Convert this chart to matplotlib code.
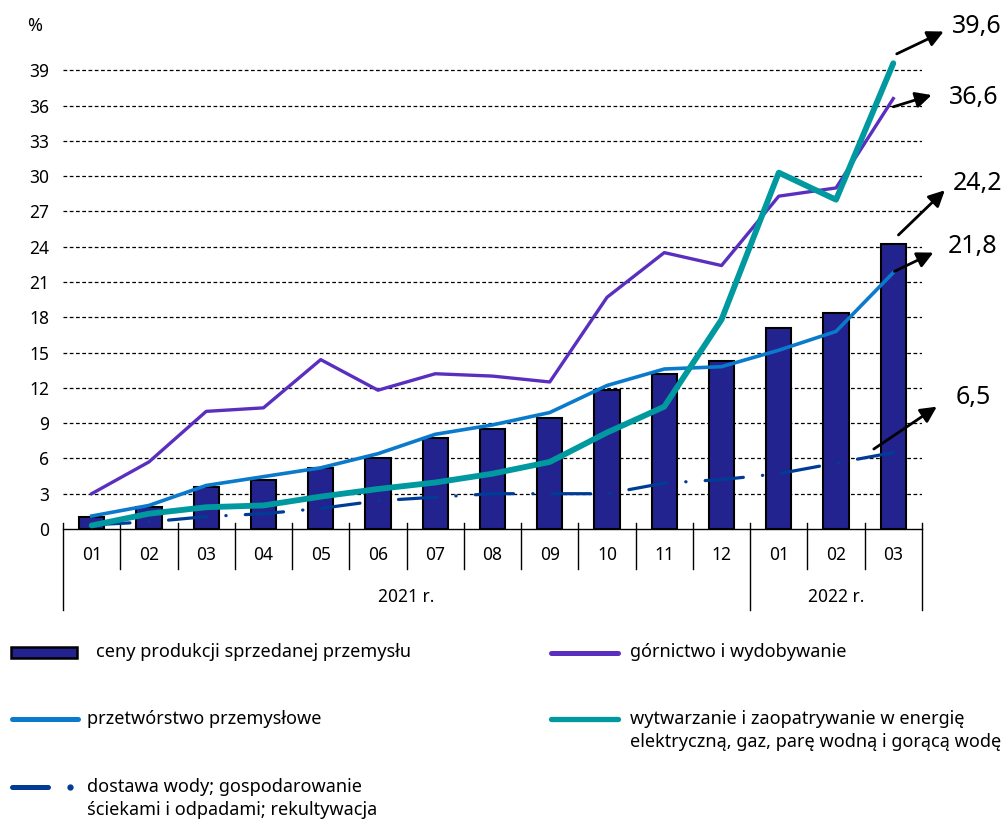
import numpy as np
import matplotlib
matplotlib.use("Agg")
import matplotlib.pyplot as plt
from matplotlib.patches import Rectangle
from matplotlib.lines import Line2D

#Data
months = ["01", "02", "03", "04", "05", "06", "07", "08", "09", "10", "11", "12", "01", "02", "03"]
years = ["2021 r.", "2022 r."]
year_len = [12, 3]

ceny = [1.0, 1.9, 3.6, 4.2, 5.2, 6.0, 7.7, 8.5, 9.4, 11.8, 13.2, 14.3, 17.1, 18.4, 24.2]
gornictwo = [3.0, 5.7, 10.0, 10.3, 14.4, 11.8, 13.2, 13.0, 12.5, 19.7, 23.5, 22.4, 28.3, 29.0, 36.6]
przetworstwo = [1.1, 2.0, 3.7, 4.45, 5.2, 6.4, 8.05, 8.85, 9.9, 12.2, 13.6, 13.8, 15.2, 16.8, 21.8]
energia = [0.3, 1.3, 1.85, 2.0, 2.75, 3.4, 3.95, 4.7, 5.7, 8.2, 10.4, 17.8, 30.3, 28.0, 39.6]
woda = [0.35, 0.6, 1.05, 1.3, 1.75, 2.4, 2.7, 3.0, 3.0, 3.0, 3.9, 4.2, 4.7, 5.6, 6.5]

last_labels = ["39,6", "36,6", "24,2", "21,8", "6,5"]

#Colours
c_bar = "#23238f"
c_gorn = "#5a2fbf"
c_prze = "#0a7acc"
c_ener = "#00999f"
c_woda = "#003c96"

plt.rcParams['font.family'] = ['Noto Sans', 'DejaVu Sans']

fig = plt.figure(figsize=(10.01, 8.21), dpi=100)
ax = fig.add_axes([0.063, 0.3557, 0.858, 0.6016])

x = np.arange(len(months))

#Grid
for v in range(3, 40, 3):
    ax.axhline(v, color='black', lw=0.9, ls=(0, (3, 2)), zorder=0)

#Bars
ax.bar(x, ceny, width=0.44, color=c_bar, edgecolor='black', lw=1.5, zorder=2)

#Lines
ax.plot(x, gornictwo, color=c_gorn, lw=2.4, zorder=3)
ax.plot(x, przetworstwo, color=c_prze, lw=2.6, zorder=3)
ax.plot(x, energia, color=c_ener, lw=4.2, zorder=4, solid_capstyle='round')
ax.plot(x, woda, color=c_woda, lw=2.3, zorder=3, ls=(0, (12, 6, 0.1, 6)),
        dash_capstyle='round')

ax.set_xlim(-0.5, len(months) - 0.5)
ax.set_ylim(0, 42)
for s in ['top', 'right', 'left']:
    ax.spines[s].set_visible(False)
ax.spines['bottom'].set_linewidth(1.0)
ax.set_yticks(range(0, 40, 3))
ax.tick_params(axis='y', length=0, labelsize=12.5, pad=10)
ax.set_xticks([])

#Category axis
boundaries = [0]
for n in year_len:
    boundaries.append(boundaries[-1] + n)
for k in range(len(months) + 1):
    xb = k - 0.5
    low = -6.9 if k in boundaries else -3.4
    ax.plot([xb, xb], [0.5, low], color='black', lw=1.0, clip_on=False)
for k, m in enumerate(months):
    ax.text(k, -2.2, m, ha='center', va='center', fontsize=12.5)
for i, yl in enumerate(years):
    ax.text((boundaries[i] + boundaries[i + 1]) / 2 - 0.5, -5.8, yl,
            ha='center', va='center', fontsize=12.5)

fig.text(0.035, 0.968, "%", ha='center', va='center', fontsize=13)

#Arrows with last values (energia, gornictwo, ceny, przetworstwo, woda)
arrow_from = [(14.06, 40.4), (14.0, 35.9), (14.09, 25.0), (14.02, 21.9), (13.66, 6.8)]
arrow_to = [(14.88, 42.3), (14.67, 36.9), (14.9, 28.8), (14.7, 23.5), (14.76, 10.4)]
label_at = [(15.46, 42.7), (15.40, 36.7), (15.47, 29.4), (15.38, 24.0), (15.40, 11.2)]
for lab, af, at, la in zip(last_labels, arrow_from, arrow_to, label_at):
    ax.annotate("", xy=at, xytext=af,
                arrowprops=dict(arrowstyle='-|>', color='black', lw=2,
                                mutation_scale=24, shrinkA=0, shrinkB=0),
                annotation_clip=False, zorder=5)
    ax.text(la[0], la[1], lab, ha='center', va='center', fontsize=18)

#Legend
leg_kw = dict(fontsize=13, va='center', linespacing=1.3)

def fx(px):
    return px / 1001

def fy(py):
    return 1 - py / 821

fig.patches.append(Rectangle((fx(11), fy(658)), fx(66), 11 / 821, facecolor=c_bar,
                             edgecolor='black', lw=1.8, transform=fig.transFigure))
fig.text(fx(96), fy(652), "ceny produkcji sprzedanej przemysłu", **leg_kw)

fig.lines.append(Line2D([fx(551), fx(618)], [fy(653), fy(653)], color=c_gorn, lw=3.6,
                        solid_capstyle='round', transform=fig.transFigure))
fig.text(fx(630), fy(652), "górnictwo i wydobywanie", **leg_kw)

fig.lines.append(Line2D([fx(12), fx(78)], [fy(719), fy(719)], color=c_prze, lw=3.6,
                        solid_capstyle='round', transform=fig.transFigure))
fig.text(fx(87), fy(719), "przetwórstwo przemysłowe", **leg_kw)

fig.lines.append(Line2D([fx(551), fx(618)], [fy(719), fy(719)], color=c_ener, lw=3.8,
                        solid_capstyle='round', transform=fig.transFigure))
fig.text(fx(630), fy(730.5), "wytwarzanie i zaopatrywanie w energię\nelektryczną, gaz, parę wodną i gorącą wodę",
         **leg_kw)

fig.lines.append(Line2D([fx(12), fx(48)], [fy(787), fy(787)], color=c_woda, lw=3.6,
                        solid_capstyle='round', transform=fig.transFigure))
fig.lines.append(Line2D([fx(70)], [fy(787)], color=c_woda, marker='o', markersize=3.5,
                        lw=0, transform=fig.transFigure))
fig.text(fx(87), fy(798.5), "dostawa wody; gospodarowanie\nściekami i odpadami; rekultywacja",
         **leg_kw)

fig.savefig("out.png", dpi=100)
